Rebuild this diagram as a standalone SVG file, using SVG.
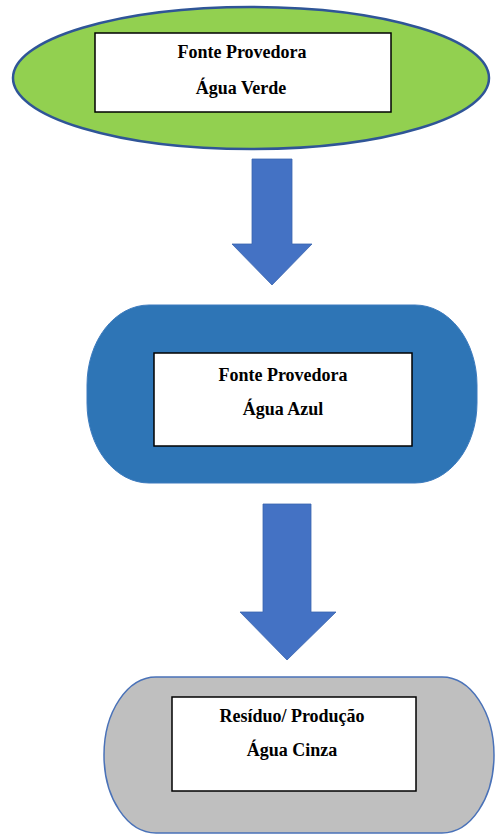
<svg xmlns="http://www.w3.org/2000/svg" width="496" height="836" viewBox="0 0 496 836">
<style>
.box{fill:#ffffff;stroke:#000000;stroke-width:1.5}
.lbl{font-family:"Liberation Serif","Times New Roman",serif;font-weight:bold;font-size:18px;fill:#000000;text-anchor:middle}
.arrow{fill:#4472C4;stroke:#3A64AE;stroke-width:0.8}
</style>
<rect width="496" height="836" fill="#ffffff"/>
<g id="node-verde">
<ellipse cx="251" cy="78" rx="238" ry="71" fill="#92D050" stroke="#2F5597" stroke-width="2.5"/>
<rect class="box" x="95" y="33" width="296" height="79"/>
<text class="lbl" x="242" y="58">Fonte Provedora</text>
<text class="lbl" x="241" y="94">Água Verde</text>
</g>
<g id="node-azul">
<rect x="87" y="305" width="390" height="178" rx="62" ry="80" fill="#2E75B6" stroke="#3D7BBE" stroke-width="1"/>
<rect class="box" x="154" y="353" width="258" height="93"/>
<text class="lbl" x="283" y="381">Fonte Provedora</text>
<text class="lbl" x="283" y="415">Água Azul</text>
</g>
<g id="node-cinza">
<rect x="104" y="677" width="390" height="156" rx="52" ry="78" fill="#BFBFBF" stroke="#4A72B8" stroke-width="1.5"/>
<rect class="box" x="172" y="697" width="244" height="94"/>
<text class="lbl" x="292" y="722">Resíduo/ Produção</text>
<text class="lbl" x="292" y="756">Água Cinza</text>
</g>
<g id="connectors">
<polygon class="arrow" points="252,159 292,159 292,244 312,244 272,285 232,244 252,244"/>
<polygon class="arrow" points="263,504 311,504 311,612 336,612 287,660 240,612 263,612"/>
</g>
</svg>
